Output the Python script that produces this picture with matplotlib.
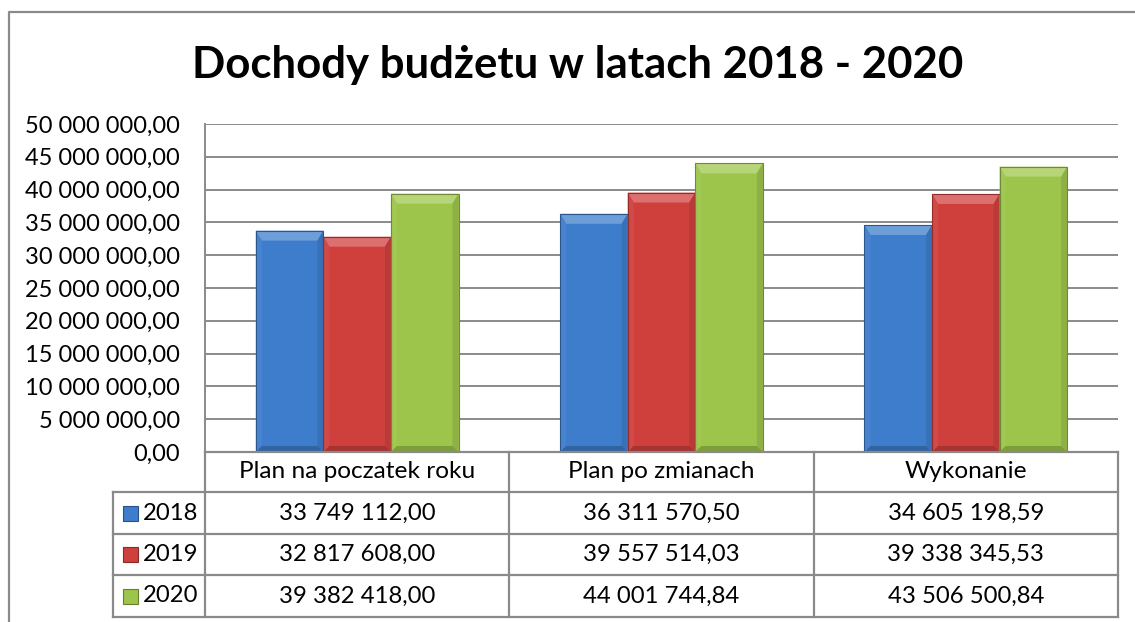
import numpy as np
import matplotlib
matplotlib.use("Agg")
import matplotlib.pyplot as plt
from matplotlib.patches import Polygon, Rectangle
from matplotlib.lines import Line2D
import matplotlib.colors as mcolors

plt.rcParams['font.family'] = ['Lato', 'DejaVu Sans']

categories = ["Plan na poczatek roku", "Plan po zmianach", "Wykonanie"]
years = ["2018", "2019", "2020"]
v2018 = [33749112.00, 36311570.50, 34605198.59]
v2019 = [32817608.00, 39557514.03, 39338345.53]
v2020 = [39382418.00, 44001744.84, 43506500.84]
series = [v2018, v2019, v2020]
colors = ["#3E7DCB", "#CF403D", "#9DC54B"]
title = "Dochody budżetu w latach 2018 - 2020"

W, H = 1135, 622
fig = plt.figure(figsize=(W / 100, H / 100), dpi=100)

def fx(px):
    return px / W

def fy(py):
    return 1 - py / H

def fmt(v):
    return f"{v:,.2f}".replace(",", " ").replace(".", ",")

# plot area in pixels
L, R, T, B = 205, 1118, 124, 452
ax = fig.add_axes([fx(L), fy(B), fx(R - L), fy(T) - fy(B)])
ax.set_xlim(-0.5, 2.5)
ax.set_ylim(0, 50e6)
yt = np.arange(0, 50e6 + 1, 5e6)
ax.set_yticks(yt)
ax.set_yticklabels([fmt(v) for v in yt])
ax.set_xticks([])
ax.tick_params(axis='y', length=0, pad=18, labelsize=17)
ax.grid(axis='y', color="#8a8a8a", linewidth=1.4)
ax.set_axisbelow(True)
for s in ["top", "right", "bottom"]:
    ax.spines[s].set_visible(False)
ax.spines["left"].set_color("#8a8a8a")
ax.spines["left"].set_linewidth(1.4)

def shade(c, f):
    r, g, b = mcolors.to_rgb(c)
    if f > 0:
        return (r + (1 - r) * f, g + (1 - g) * f, b + (1 - b) * f)
    return (r * (1 + f), g * (1 + f), b * (1 + f))

xpp = 3.0 / (R - L)
ypp = 50e6 / (B - T)

def bevel_bar(xc, w, h, c):
    x0, x1 = xc - w / 2, xc + w / 2
    bx, by, bt = 6 * xpp, 6 * ypp, 10 * ypp
    ax.add_patch(Rectangle((x0, 0), w, h, facecolor=c, edgecolor='none', zorder=3))
    ax.add_patch(Polygon([(x0, h), (x1, h), (x1 - bx, h - bt), (x0 + bx, h - bt)],
                         closed=True, facecolor=shade(c, 0.25), edgecolor='none', zorder=4))
    ax.add_patch(Polygon([(x0, 0), (x0 + bx, by), (x0 + bx, h - bt), (x0, h)],
                         closed=True, facecolor=shade(c, 0.05), edgecolor='none', zorder=4))
    ax.add_patch(Polygon([(x1, 0), (x1 - bx, by), (x1 - bx, h - bt), (x1, h)],
                         closed=True, facecolor=shade(c, -0.1), edgecolor='none', zorder=4))
    ax.add_patch(Polygon([(x0, 0), (x1, 0), (x1 - bx, by), (x0 + bx, by)],
                         closed=True, facecolor=shade(c, -0.2), edgecolor='none', zorder=4))
    ax.add_patch(Rectangle((x0, 0), w, h, facecolor='none', edgecolor=shade(c, -0.3), linewidth=0.8, zorder=5))

bw = 0.222
x = np.arange(len(categories))
for i, vals in enumerate(series):
    for xi, v in zip(x, vals):
        bevel_bar(xi + (i - 1) * bw, bw, v, colors[i])

# title
fig.text(fx(578), fy(78), title, ha='center', va='baseline', fontsize=31.5, fontweight='bold')

# outer frame (cut by the image edge)
fig.add_artist(Line2D([fx(9), fx(9), fx(W + 5)], [fy(H + 5), fy(12), fy(12)], color="#8a8a8a", linewidth=1.6))

# data table
lc = "#8a8a8a"
rows_y = [452, 492, 534, 575, 617]
col_x = [L + k * (R - L) / 3 for k in range(4)]
leg_x = 113

def hline(y, xa, xb):
    fig.add_artist(Line2D([fx(xa), fx(xb)], [fy(y), fy(y)], color=lc, linewidth=1.6))

def vline(xp, ya, yb):
    fig.add_artist(Line2D([fx(xp), fx(xp)], [fy(ya), fy(yb)], color=lc, linewidth=1.6))

hline(rows_y[0], L, R)
for yy in rows_y[1:]:
    hline(yy, leg_x, R)
for xp in col_x:
    vline(xp, rows_y[0], rows_y[-1])
vline(leg_x, rows_y[1], rows_y[-1])

fs = 17.2
for j, cat in enumerate(categories):
    fig.text(fx((col_x[j] + col_x[j + 1]) / 2), fy((rows_y[0] + rows_y[1]) / 2), cat,
             ha='center', va='center', fontsize=17.6)

for i, vals in enumerate(series):
    yc = (rows_y[i + 1] + rows_y[i + 2]) / 2
    for j, v in enumerate(vals):
        fig.text(fx((col_x[j] + col_x[j + 1]) / 2), fy(yc), fmt(v), ha='center', va='center', fontsize=fs)
    # legend key
    kx, ks = 123, 15
    fig.add_artist(Rectangle((fx(kx), fy(yc + ks / 2)), fx(ks), fy(0) - fy(ks), facecolor=colors[i],
                             edgecolor=shade(colors[i], -0.35), linewidth=0.8))
    fig.text(fx(143), fy(yc), years[i], ha='left', va='center', fontsize=fs)

fig.savefig("out.png", dpi=100, facecolor="white")
